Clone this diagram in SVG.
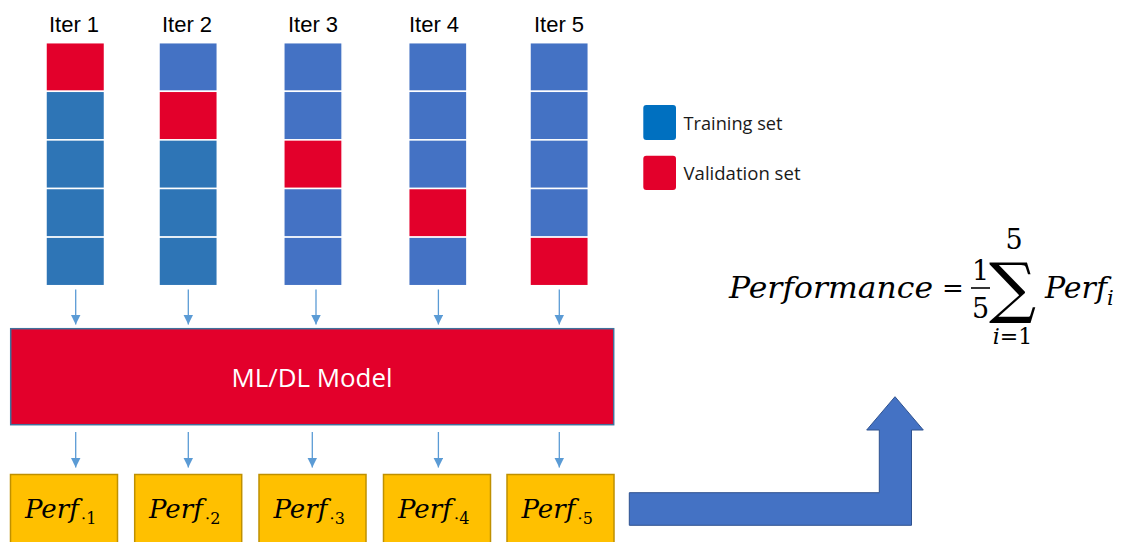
<svg xmlns="http://www.w3.org/2000/svg" width="1127" height="542" viewBox="0 0 1127 542">
  <defs>
    <marker id="head" markerUnits="userSpaceOnUse" markerWidth="10" markerHeight="10" refX="10" refY="5" orient="auto">
      <path d="M0,0 L10,5 L0,10 z" fill="#5B9BD5"/>
    </marker>
    <style>
      .iter { font-family: "Liberation Sans", Arial, sans-serif; font-size: 22px; fill: #000; text-anchor: middle; }
      .tr1 { fill: #2E75B6; stroke: #FFFFFF; stroke-width: 1.5; }
      .tr2 { fill: #4472C4; stroke: #FFFFFF; stroke-width: 1.5; }
      .val { fill: #E3002B; stroke: #FFFFFF; stroke-width: 1.5; }
      .conn { stroke: #5B9BD5; stroke-width: 1.3; fill: none; marker-end: url(#head); }
      .model { fill: #E3002B; stroke: #41719C; stroke-width: 1.5; }
      .modeltxt { font-family: "Open Sans", "Noto Sans", sans-serif; font-size: 26px; fill: #FFFFFF; text-anchor: middle; }
      .perfbox { fill: #FFC000; stroke: #BF9000; stroke-width: 1.5; }
      .math { font-family: "DejaVu Serif", "Liberation Serif", serif; fill: #000; }
      .it { font-style: italic; }
      .legtxt { font-family: "Open Sans", "Noto Sans", sans-serif; font-size: 19px; fill: #1A1A1A; }
    </style>
  </defs>

  <!-- fold columns: one column per iteration, validation fold in red -->
  <g id="iter1">
    <text class="iter" x="74" y="32">Iter 1</text>
    <rect class="val" x="46" y="42.7" width="58.5" height="48.6"/>
    <rect class="tr1" x="46" y="91.3" width="58.5" height="48.6"/>
    <rect class="tr1" x="46" y="139.9" width="58.5" height="48.6"/>
    <rect class="tr1" x="46" y="188.5" width="58.5" height="48.6"/>
    <rect class="tr1" x="46" y="237.1" width="58.5" height="48.6"/>
  </g>
  <g id="iter2">
    <text class="iter" x="187" y="32">Iter 2</text>
    <rect class="tr2" x="159" y="42.7" width="58.3" height="48.6"/>
    <rect class="val" x="159" y="91.3" width="58.3" height="48.6"/>
    <rect class="tr1" x="159" y="139.9" width="58.3" height="48.6"/>
    <rect class="tr1" x="159" y="188.5" width="58.3" height="48.6"/>
    <rect class="tr1" x="159" y="237.1" width="58.3" height="48.6"/>
  </g>
  <g id="iter3">
    <text class="iter" x="313" y="32">Iter 3</text>
    <rect class="tr2" x="283.8" y="42.7" width="58.3" height="48.6"/>
    <rect class="tr2" x="283.8" y="91.3" width="58.3" height="48.6"/>
    <rect class="val" x="283.8" y="139.9" width="58.3" height="48.6"/>
    <rect class="tr2" x="283.8" y="188.5" width="58.3" height="48.6"/>
    <rect class="tr2" x="283.8" y="237.1" width="58.3" height="48.6"/>
  </g>
  <g id="iter4">
    <text class="iter" x="434" y="32">Iter 4</text>
    <rect class="tr2" x="408.7" y="42.7" width="58.2" height="48.6"/>
    <rect class="tr2" x="408.7" y="91.3" width="58.2" height="48.6"/>
    <rect class="tr2" x="408.7" y="139.9" width="58.2" height="48.6"/>
    <rect class="val" x="408.7" y="188.5" width="58.2" height="48.6"/>
    <rect class="tr2" x="408.7" y="237.1" width="58.2" height="48.6"/>
  </g>
  <g id="iter5">
    <text class="iter" x="559" y="32">Iter 5</text>
    <rect class="tr2" x="530" y="42.7" width="58.3" height="48.6"/>
    <rect class="tr2" x="530" y="91.3" width="58.3" height="48.6"/>
    <rect class="tr2" x="530" y="139.9" width="58.3" height="48.6"/>
    <rect class="tr2" x="530" y="188.5" width="58.3" height="48.6"/>
    <rect class="val" x="530" y="237.1" width="58.3" height="48.6"/>
  </g>

  <!-- legend -->
  <g id="legend">
    <rect x="643.3" y="105" width="32.7" height="35" rx="3" fill="#0070C0"/>
    <text class="legtxt" x="683.5" y="129.5" textLength="99" lengthAdjust="spacingAndGlyphs">Training set</text>
    <rect x="643.3" y="155.7" width="32.7" height="34.3" rx="3" fill="#E3002B"/>
    <text class="legtxt" x="683.5" y="179.5" textLength="117" lengthAdjust="spacingAndGlyphs">Validation set</text>
  </g>

  <!-- model -->
  <g id="model">
    <rect class="model" x="10.7" y="328.7" width="603" height="96"/>
    <text class="modeltxt" x="312" y="386.7" textLength="161" lengthAdjust="spacingAndGlyphs">ML/DL Model</text>
  </g>

  <!-- per-fold scores -->
  <g id="perf1">
    <rect class="perfbox" x="10.5" y="474.5" width="107" height="80"/>
    <text class="math" x="25" y="518"><tspan class="it" font-size="26">Perf</tspan><tspan font-size="16" dx="2" dy="6">⋅1</tspan></text>
  </g>
  <g id="perf2">
    <rect class="perfbox" x="134.7" y="474.5" width="107" height="80"/>
    <text class="math" x="149" y="518"><tspan class="it" font-size="26">Perf</tspan><tspan font-size="16" dx="2" dy="6">⋅2</tspan></text>
  </g>
  <g id="perf3">
    <rect class="perfbox" x="259" y="474.5" width="107" height="80"/>
    <text class="math" x="273.5" y="518"><tspan class="it" font-size="26">Perf</tspan><tspan font-size="16" dx="2" dy="6">⋅3</tspan></text>
  </g>
  <g id="perf4">
    <rect class="perfbox" x="383.5" y="474.5" width="107" height="80"/>
    <text class="math" x="398" y="518"><tspan class="it" font-size="26">Perf</tspan><tspan font-size="16" dx="2" dy="6">⋅4</tspan></text>
  </g>
  <g id="perf5">
    <rect class="perfbox" x="507" y="474.5" width="107" height="80"/>
    <text class="math" x="521.5" y="518"><tspan class="it" font-size="26">Perf</tspan><tspan font-size="16" dx="2" dy="6">⋅5</tspan></text>
  </g>

  <!-- connectors -->
  <g id="connectors">
    <line class="conn" x1="75.7" y1="289.5" x2="75.7" y2="324.5"/>
    <line class="conn" x1="188.3" y1="289.5" x2="188.3" y2="324.5"/>
    <line class="conn" x1="316" y1="289.5" x2="316" y2="324.5"/>
    <line class="conn" x1="438.4" y1="289.5" x2="438.4" y2="324.5"/>
    <line class="conn" x1="559.3" y1="289.5" x2="559.3" y2="324.5"/>
    <line class="conn" x1="75.7" y1="432" x2="75.7" y2="467.5"/>
    <line class="conn" x1="188.3" y1="432" x2="188.3" y2="467.5"/>
    <line class="conn" x1="312.3" y1="432" x2="312.3" y2="467.5"/>
    <line class="conn" x1="438.4" y1="432" x2="438.4" y2="467.5"/>
    <line class="conn" x1="559.3" y1="432" x2="559.3" y2="467.5"/>
    <!-- bent block arrow towards the average -->
    <polygon points="629.3,492.7 879.3,492.7 879.3,430 866.7,430 895,396.7 923.3,430 911.5,430 911.5,525.3 629.3,525.3" fill="#4472C4" stroke="#2F528F" stroke-width="1"/>
  </g>

  <!-- averaged performance formula -->
  <g id="formula" class="math">
    <text class="it" x="729" y="298" font-size="30" textLength="204" lengthAdjust="spacingAndGlyphs">Performance</text>
    <text x="953" y="297" font-size="26" text-anchor="middle">=</text>
    <text x="980.5" y="280" font-size="27" text-anchor="middle">1</text>
    <line x1="971" y1="288" x2="990" y2="288" stroke="#000" stroke-width="1.6"/>
    <text x="980.5" y="318" font-size="27" text-anchor="middle">5</text>
    <text x="1014" y="249" font-size="27" text-anchor="middle">5</text>
    <text x="1012.5" y="310" font-size="66" text-anchor="middle">∑</text>
    <text x="1012.5" y="344" font-size="22" text-anchor="middle"><tspan class="it">i</tspan>=1</text>
    <text class="it" x="1045" y="298" font-size="30">Perf<tspan font-size="21" dy="7">i</tspan></text>
  </g>
</svg>
